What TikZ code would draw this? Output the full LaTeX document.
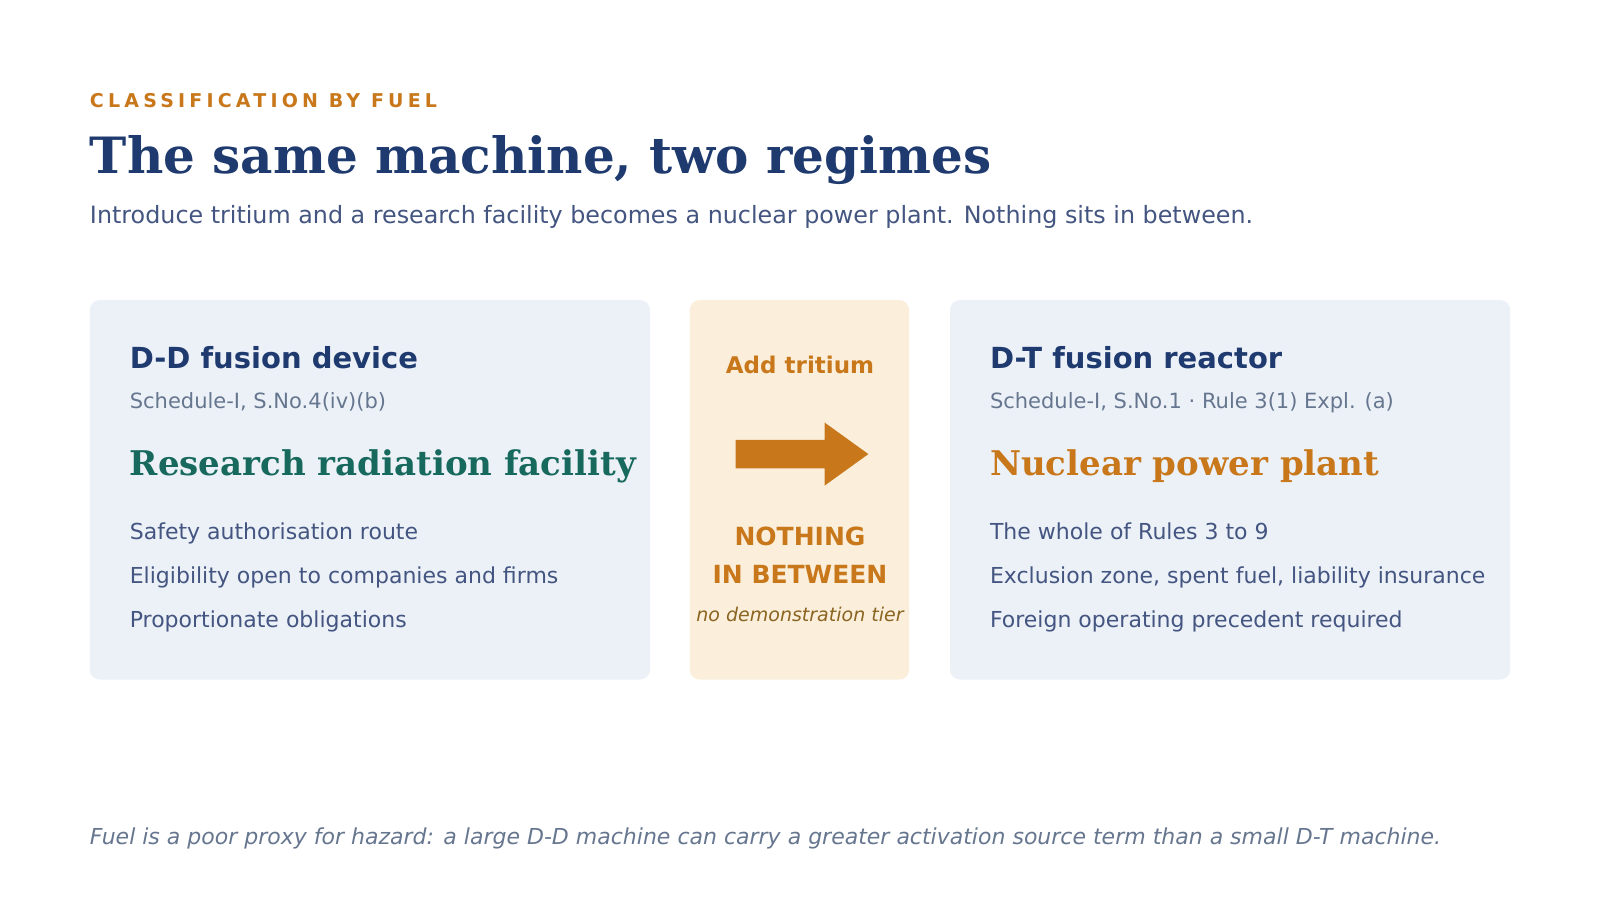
\documentclass[tikz,border=0pt]{standalone}
\usepackage{fontspec}
\setmainfont{DejaVu Sans}
\newfontfamily\serifbf{DejaVu Serif}
\usetikzlibrary{positioning}
\definecolor{navy}{HTML}{1E3A6E}
\definecolor{amber}{HTML}{C8781A}
\definecolor{teal}{HTML}{16695C}
\definecolor{slate}{HTML}{435580}
\definecolor{mute}{HTML}{66768F}
\definecolor{panel}{HTML}{ECF1F8}
\definecolor{cream}{HTML}{FBEFDC}
\definecolor{bronze}{HTML}{8A6420}
\tikzset{
  txt/.style={anchor=base west, inner sep=0pt},
  mid/.style={anchor=base, inner sep=0pt},
  card/.style={rounded corners=10pt},
  fs/.style={font=\fontsize{#1}{#1}\selectfont},
  fsb/.style={font=\fontsize{#1}{#1}\selectfont\bfseries},
  fsi/.style={font=\fontsize{#1}{#1}\selectfont\itshape}
}
\begin{document}
\begin{tikzpicture}[x=1.02pt,y=-1.02pt]
    \useasboundingbox[fill=white] (0,0) rectangle (1568,882);

    % header
    \node[txt, fsb=19, text=amber] (kicker) at (88,105) {\addfontfeature{LetterSpace=22}CLASSIFICATION BY FUEL};
    \node[txt, text=navy] (title) at (88,170) {\fontsize{50}{50}\serifbf\bfseries The same machine, two regimes};
    \node[txt, fs=23.8, text=slate] (sub) at (88,219) {Introduce tritium and a research facility becomes a nuclear power plant. Nothing sits in between.};

    % cards
    \fill[card, panel] (88,294) rectangle (637,666);
    \fill[card, cream] (676,294) rectangle (891,666);
    \fill[card, panel] (931,294) rectangle (1480,666);

    % left card
    \node[txt, fsb=29, text=navy] (ddhead) at (127,361) {D-D fusion device};
    \node[txt, fs=21, text=mute] (ddref) at (127,400) {Schedule-I, S.No.4(iv)(b)};
    \node[txt, text=teal] (ddclass) at (127,466) {\fontsize{34}{34}\serifbf\bfseries Research radiation facility};
    \foreach \y/\t in {529/Safety authorisation route, 572/Eligibility open to companies and firms, 615/Proportionate obligations}
        \node[txt, fs=22, text=slate] at (127,\y) {\t};

    % middle card
    \node[mid, fsb=23, text=amber] (add) at (784,366) {Add tritium};
    \fill[amber] (721,431) -- (808,431) -- (808,414) -- (851,445) -- (808,476) -- (808,459) -- (721,459) -- cycle;
    \node[mid, fsb=25, text=amber] (nothing) at (784,535) {NOTHING};
    \node[mid, fsb=25, text=amber] (between) at (784,572) {IN BETWEEN};
    \node[mid, fsi=19, text=bronze] (tier) at (784,609) {no demonstration tier};

    % right card
    \node[txt, fsb=29, text=navy] (dthead) at (970,361) {D-T fusion reactor};
    \node[txt, fs=21, text=mute] (dtref) at (970,400) {Schedule-I, S.No.1 · Rule 3(1) Expl. (a)};
    \node[txt, text=amber] (dtclass) at (970,466) {\fontsize{34}{34}\serifbf\bfseries Nuclear power plant};
    \foreach \y/\t in {529/The whole of Rules 3 to 9, 572/{Exclusion zone, spent fuel, liability insurance}, 615/Foreign operating precedent required}
        \node[txt, fs=22, text=slate] at (970,\y) {\t};

    % footer
    \node[txt, fsi=22, text=mute] (foot) at (88,828) {Fuel is a poor proxy for hazard: a large D-D machine can carry a greater activation source term than a small D-T machine.};
\end{tikzpicture}
\end{document}
